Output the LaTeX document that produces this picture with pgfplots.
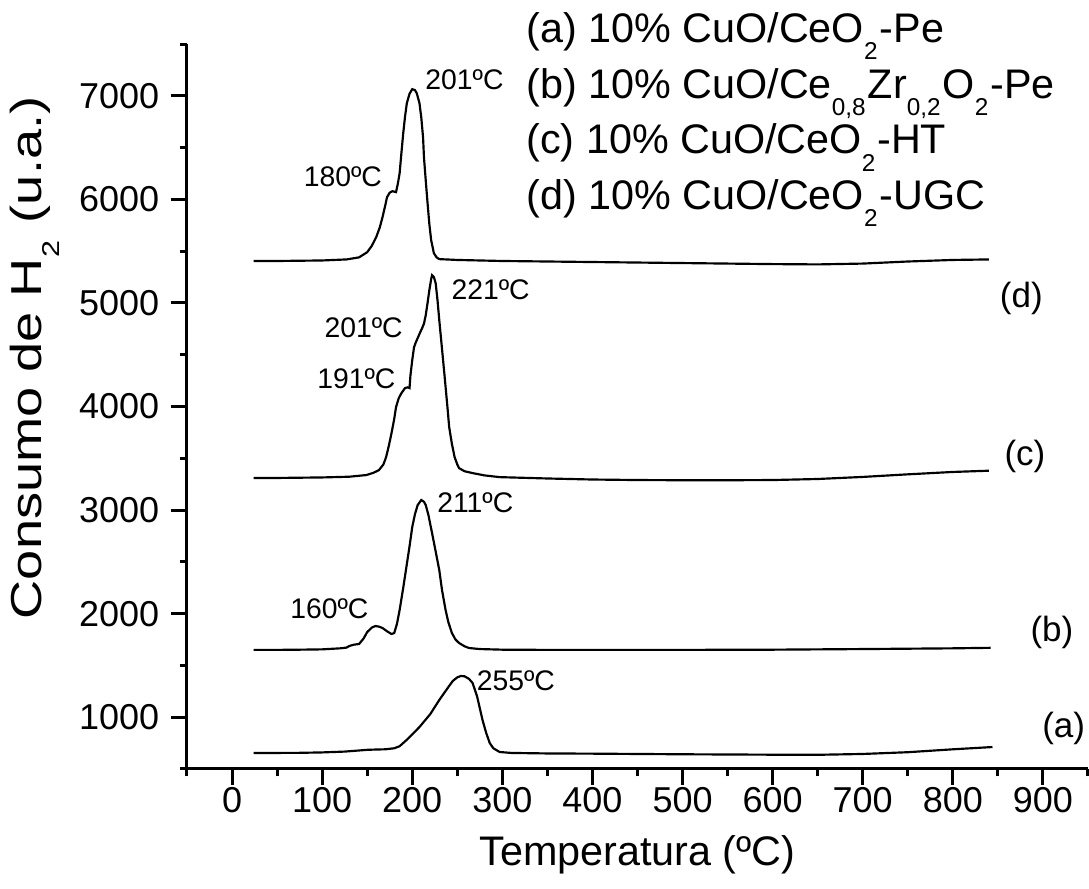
\documentclass[border=0pt]{standalone}
\usepackage{fontspec}
\setmainfont{Liberation Sans}
\usepackage{pgfplots}
\pgfplotsset{compat=1.18}

% Origin-style subscript: small and set well below the baseline
\newcommand{\sub}[1]{\raisebox{-0.42em}{\fontsize{7.3}{8}\selectfont #1}\kern0.05em}

\pgfplotstableread{
T H
24 655
50 655
75 656
100 660
125 668
140 678
150 685
160 688
170 690
180 700
186 720
195 790
208 905
220 1030
230 1166
240 1290
245 1350
250 1385
254 1398
258 1395
263 1370
267 1330
272 1200
278 973
282 850
286 751
290 700
297 664
310 655
350 650
400 648
450 645
500 642
550 640
600 638
650 637
700 645
750 662
800 690
844 712
}\curveA

\pgfplotstableread{
T H
24 1650
50 1650
75 1652
100 1655
120 1665
127 1672
130 1687
135 1700
141 1707
146 1760
150 1822
155 1865
159 1880
163 1875
167 1861
172 1830
177 1803
180 1813
183 1900
186 2035
190 2250
193 2421
197 2650
200 2836
203 2960
206 3048
210 3097
213 3080
215 3048
218 2950
222 2778
226 2600
230 2421
233 2230
237 2035
240 1920
244 1813
248 1750
252 1716
258 1685
263 1668
275 1658
300 1652
350 1650
400 1650
500 1650
600 1652
700 1658
800 1665
842 1670
}\curveB

\pgfplotstableread{
T H
24 3310
50 3310
100 3315
130 3322
149 3338
157 3360
163 3386
168 3440
171 3512
174 3620
177 3743
180 3880
182 3994
185 4080
188 4129
192 4178
195 4185
197 4178
198 4300
200 4448
202 4573
204 4620
206 4660
209 4720
211 4757
213 4800
215 4882
217 5000
219 5124
221 5230
222 5268
224 5250
226 5191
228 5030
230 4834
233 4560
236 4284
239 4000
241 3801
244 3640
247 3512
250 3440
252 3405
258 3375
267 3357
280 3335
297 3318
350 3305
400 3295
450 3290
500 3288
550 3288
600 3290
650 3300
700 3320
750 3345
800 3368
840 3380
}\curveC

\pgfplotstableread{
T H
24 5405
50 5405
100 5410
127 5420
141 5440
150 5490
155 5550
160 5635
164 5730
167 5828
170 5940
172 6021
175 6065
178 6079
182 6070
184 6150
186 6253
188 6450
190 6639
192 6800
194 6929
197 7020
200 7064
203 7055
205 7025
208 6930
210 6793
212 6600
213 6407
215 6180
217 5963
219 5760
221 5606
224 5481
227 5440
230 5423
250 5415
300 5405
350 5400
400 5395
450 5390
500 5385
550 5380
600 5375
650 5372
700 5380
750 5400
800 5415
840 5420
}\curveD

\begin{document}
\begin{tikzpicture}
% fixed page size, axis box sits at the origin
\useasboundingbox (-56.1pt,-36pt) rectangle (270.6pt,230.7pt);
\begin{axis}[
  scale only axis, width=270.3pt, height=217.5pt,
  xmin=-50, xmax=950, ymin=500, ymax=7500,
  axis x line*=bottom, axis y line*=left,
  axis line style={-, line width=0.9pt},
  xtick={0,100,...,900}, ytick={1000,2000,...,7000},
  minor xtick={-50,50,...,950}, minor ytick={500,1500,...,7500},
  tick align=outside,
  major tick length=4.8pt, minor tick length=2.2pt,
  every tick/.append style={black, line width=0.9pt},
  tick label style={font=\fontsize{10.8}{12}\selectfont},
  xticklabel style={yshift=2.8pt},
  /pgf/number format/assume math mode=true,
  /pgf/number format/1000 sep={},
  scaled ticks=false,
  xlabel={Temperatura (ºC)},
  ylabel={\scalebox{1.25}[1]{Consumo de H\sub{2}\hspace{0.28em}(u.a.)}},
  xlabel style={font=\fontsize{12.4}{14}\selectfont},
  ylabel style={font=\fontsize{13}{15}\selectfont,
    at={(axis description cs:-0.169,0.567)}, anchor=center},
  clip=false,
]
\addplot[black, line width=0.65pt] table[x=T,y=H] {\curveA};
\addplot[black, line width=0.65pt] table[x=T,y=H] {\curveB};
\addplot[black, line width=0.65pt] table[x=T,y=H] {\curveC};
\addplot[black, line width=0.65pt] table[x=T,y=H] {\curveD};

\begin{scope}[every node/.style={font=\fontsize{8.5}{10}\selectfont}]
\node at (axis cs:258,7151) {201ºC};
\node at (axis cs:123,6214) {180ºC};
\node at (axis cs:287,5124) {221ºC};
\node at (axis cs:146,4757) {201ºC};
\node at (axis cs:138,4265) {191ºC};
\node at (axis cs:270,3068) {211ºC};
\node at (axis cs:108,2044) {160ºC};
\node at (axis cs:315,1349) {255ºC};
\end{scope}

\begin{scope}[every node/.style={font=\fontsize{10.5}{12}\selectfont}]
\node at (axis cs:876,5046) {(d)};
\node at (axis cs:880,3521) {(c)};
\node at (axis cs:910,1822) {(b)};
\node at (axis cs:923,896) {(a)};
\end{scope}

\node[anchor=north west, align=left, inner sep=0pt,
  font=\fontsize{12.4}{16.7}\selectfont] at (axis cs:326,7810)
  {(a) 10\% CuO/CeO\sub{2}-Pe\\
   (b) 10\% CuO/Ce\sub{0,8}Zr\sub{0,2}O\sub{2}-Pe\\
   (c) 10\% CuO/CeO\sub{2}-HT\\
   (d) 10\% CuO/CeO\sub{2}-UGC};
\end{axis}
\end{tikzpicture}
\end{document}
